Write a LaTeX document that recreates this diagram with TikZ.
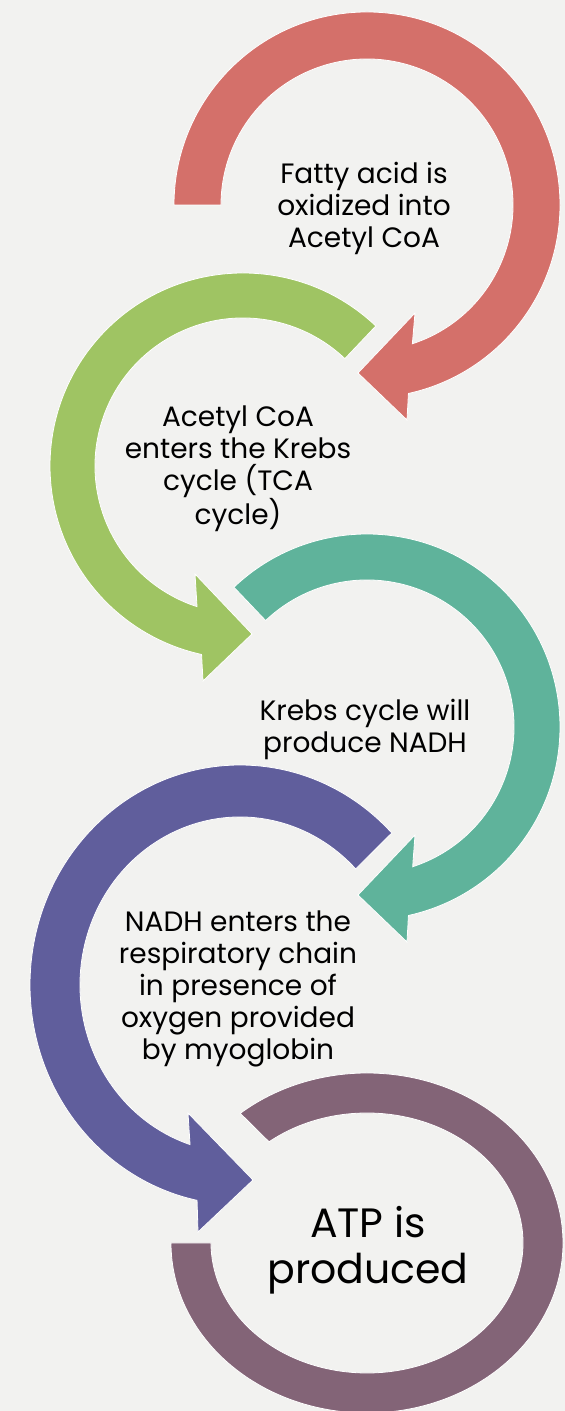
\documentclass[tikz,border=0pt]{standalone}
\usepackage{fontspec}
\setmainfont{Poppins}
\usetikzlibrary{calc}
\definecolor{bgc}{HTML}{F2F2F0}
\definecolor{redc}{HTML}{D4706A}
\definecolor{greenc}{HTML}{9FC463}
\definecolor{tealc}{HTML}{5FB39B}
\definecolor{purplec}{HTML}{605E9C}
\definecolor{mauvec}{HTML}{836477}
\tikzset{
  ringband/.style={fill=#1, draw=white, line width=0.8bp, line join=miter},
  txt/.style={align=center, font=\fontsize{28bp}{32bp}\selectfont, text=black, inner sep=0pt},
  bigtxt/.style={align=center, font=\fontsize{41bp}{46bp}\selectfont, text=black, inner sep=0pt},
}
\begin{document}
\begin{tikzpicture}[x=1bp,y=1bp]
\fill[bgc] (0,0) rectangle (565,1411);
\useasboundingbox (0,0) rectangle (565,1411);

% red arrow
\coordinate (c1) at (367,1206);
\draw[ringband=redc] ($(c1)+(180:193)$) arc[start angle=180, end angle=-77.6, radius=193]
  -- ($(c1)+(40,-215)$) -- ($(c1)+(-9,-168)$) -- ($(c1)+(48,-108)$)
  -- ($(c1)+(-71.9:146)$) arc[start angle=-71.9, end angle=180, radius=146] -- cycle;

% green arrow
\coordinate (c2) at (243,945);
\draw[ringband=greenc] ($(c2)+(46.5:193)$) arc[start angle=46.5, end angle=257.6, radius=193]
  -- ($(c2)+(-40,-215)$) -- ($(c2)+(9,-168)$) -- ($(c2)+(-48,-108)$)
  -- ($(c2)+(251.9:148)$) arc[start angle=251.9, end angle=46.5, radius=148] -- cycle;

% teal arrow
\coordinate (c3) at (367,684);
\draw[ringband=tealc] ($(c3)+(133.6:193)$) arc[start angle=133.6, end angle=-77.6, radius=193]
  -- ($(c3)+(40,-215)$) -- ($(c3)+(-9,-168)$) -- ($(c3)+(48,-108)$)
  -- ($(c3)+(-71.9:147)$) arc[start angle=-71.9, end angle=133.6, radius=147] -- cycle;

% purple arrow
\coordinate (c4) at (240,426);
\draw[ringband=purplec] ($(c4)+({210*cos(43.7)},{220*sin(43.7)})$)
  arc[start angle=43.7, end angle=258.2, x radius=210, y radius=220]
  -- ($(c4)+(-42,-247)$) -- ($(c4)+(13,-195)$) -- ($(c4)+(-52,-128)$)
  -- ($(c4)+({160*cos(251.8)},{168*sin(251.8)})$)
  arc[start angle=251.8, end angle=43.7, x radius=160, y radius=168] -- cycle;

% ATP ring
\coordinate (c5) at (367,168);
\draw[ringband=mauvec] ($(c5)+(-196,0)$)
  arc[start angle=180, end angle=490.3, x radius=196, y radius=170]
  -- ($(c5)+({156*cos(488.9)},{130*sin(488.9)})$)
  arc[start angle=488.9, end angle=180, x radius=156, y radius=130] -- cycle;

% texts
\node[txt] (t1) at (364,1202.5) {Fatty acid is\\oxidized into\\Acetyl CoA};
\node[txt] (t2) at (238,942.5) {Acetyl CoA\\enters the Krebs\\cycle (TCA\\cycle)};
\node[txt] (t3) at (365,682) {Krebs cycle will\\produce NADH};
\node[txt] (t4) at (238,422) {NADH enters the\\respiratory chain\\in presence of\\oxygen provided\\by myoglobin};
\node[bigtxt] (t5) at (368,161) {ATP is\\produced};
\end{tikzpicture}
\end{document}
